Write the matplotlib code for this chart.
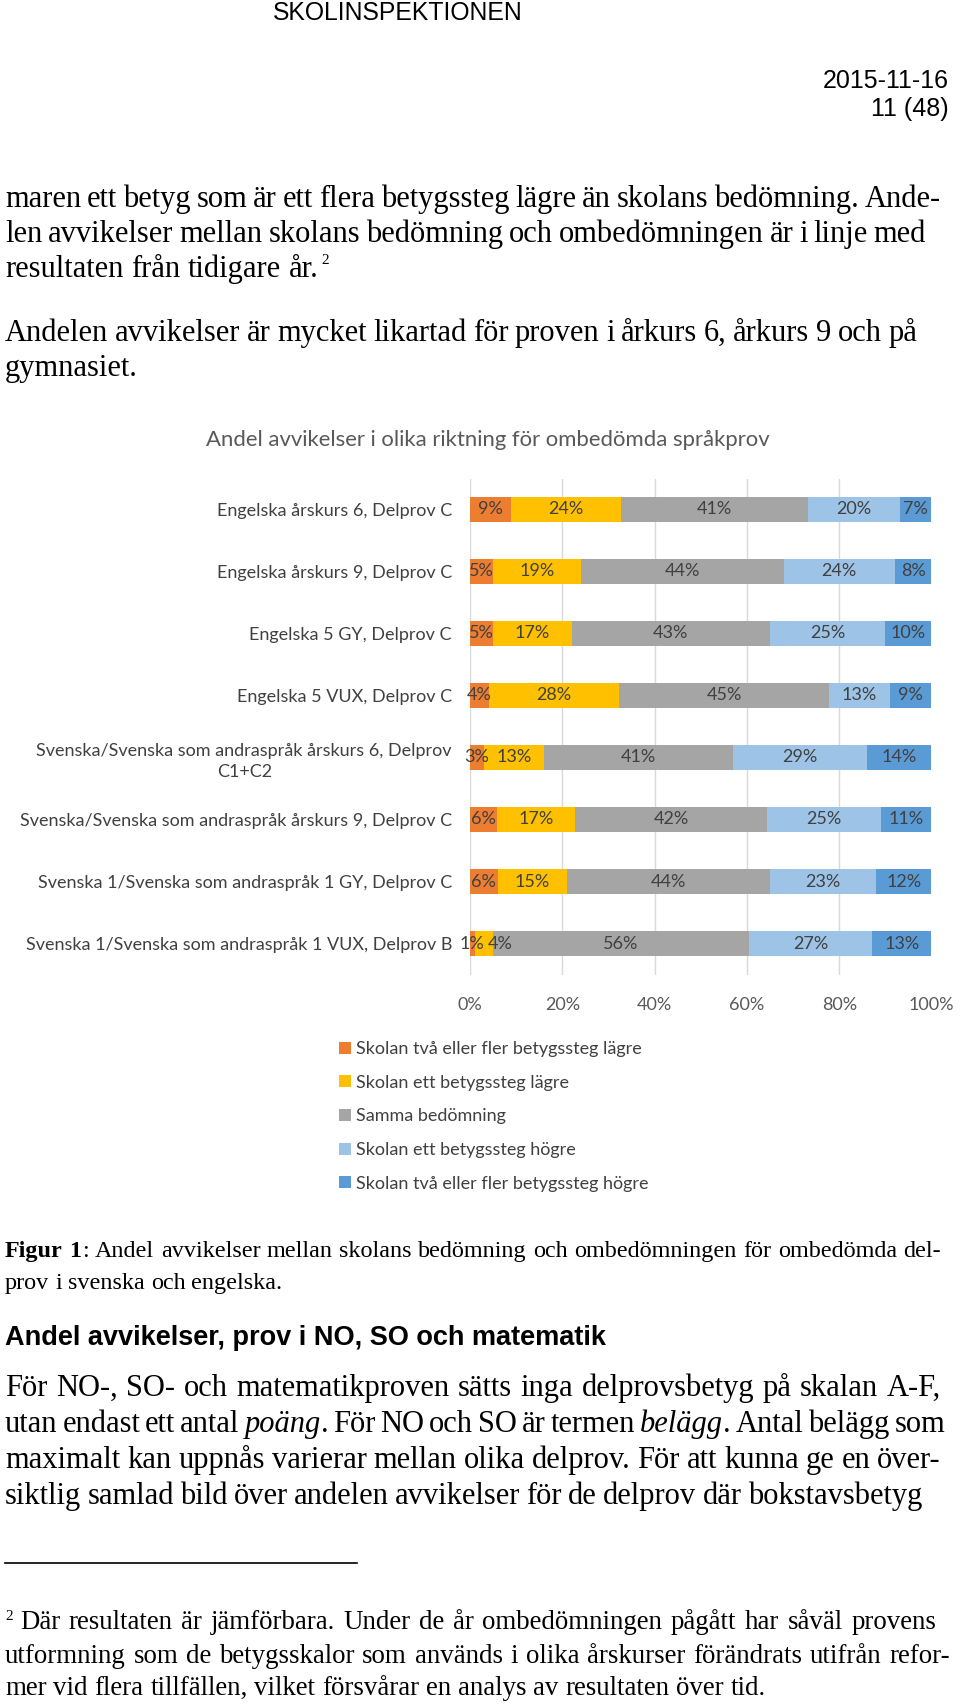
import matplotlib
matplotlib.use('Agg')
import matplotlib.pyplot as plt

W, H = 960, 1707

# chart data
categories = [
    'Engelska årskurs 6, Delprov C',
    'Engelska årskurs 9, Delprov C',
    'Engelska 5 GY, Delprov C',
    'Engelska 5 VUX, Delprov C',
    'Svenska/Svenska som andraspråk årskurs 6, Delprov\nC1+C2',
    'Svenska/Svenska som andraspråk årskurs 9, Delprov C',
    'Svenska 1/Svenska som andraspråk 1 GY, Delprov C',
    'Svenska 1/Svenska som andraspråk 1 VUX, Delprov B',
]
series_names = [
    'Skolan två eller fler betygssteg lägre',
    'Skolan ett betygssteg lägre',
    'Samma bedömning',
    'Skolan ett betygssteg högre',
    'Skolan två eller fler betygssteg högre',
]
two_lower = [9, 5, 5, 4, 3, 6, 6, 1]
one_lower = [24, 19, 17, 28, 13, 17, 15, 4]
same = [41, 44, 43, 45, 41, 42, 44, 56]
one_higher = [20, 24, 25, 13, 29, 25, 23, 27]
two_higher = [7, 8, 10, 9, 14, 11, 12, 13]
x_ticks = [0, 20, 40, 60, 80, 100]

colors = ['#ED7D31', '#FFC000', '#A5A5A5', '#9DC3E6', '#5B9BD5']

fig = plt.figure(figsize=(9.6, 17.07), dpi=100)
renderer = fig.canvas.get_renderer()


def fx(x):
    return x / W


def fy(y):
    return 1 - y / H


def put_line(y, line, x0=5, x1=None, size=22, family='Liberation Serif', weight='normal'):
    # one line of page text; words wrapped in _..._ are italic, x1 = justify to that edge
    pieces = []
    for word in line.split(' '):
        objs = []
        for i, part in enumerate(word.split('_')):
            if not part:
                continue
            t = fig.text(0, fy(y), part, fontsize=size, family=family, weight=weight,
                         style='italic' if i % 2 else 'normal', va='baseline', ha='left')
            objs.append(t)
        pieces.append(objs)
    widths = [[t.get_window_extent(renderer).width for t in objs] for objs in pieces]
    space = size * 0.25 * 100 / 72
    if x1 is not None and len(pieces) > 1:
        total = sum(sum(w) for w in widths)
        space = (x1 - x0 - total) / (len(pieces) - 1)
    x = x0
    for objs, ws in zip(pieces, widths):
        for t, w in zip(objs, ws):
            t.set_x(fx(x))
            x += w
        x += space
    return x


# page header
fig.text(fx(398), fy(13), 'SKOLINSPEKTIONEN', fontsize=17.8, family='Liberation Sans',
         ha='center', va='center')
fig.text(fx(949), fy(81), '2015-11-16', fontsize=18, family='Liberation Sans', ha='right', va='center')
fig.text(fx(949), fy(109), '11 (48)', fontsize=18, family='Liberation Sans', ha='right', va='center')

# body text above the chart
put_line(207, 'maren ett betyg som är ett flera betygssteg lägre än skolans bedömning. Ande-', x1=941)
put_line(242, 'len avvikelser mellan skolans bedömning och ombedömningen är i linje med', x1=926)
end = put_line(277, 'resultaten från tidigare år.')
fig.text(fx(end - 5), fy(264), '2', fontsize=11, family='Liberation Serif', va='baseline')
put_line(341, 'Andelen avvikelser är mycket likartad för proven i årkurs 6, årkurs 9 och på', x1=917)
put_line(376, 'gymnasiet.')

# chart
fig.text(fx(488), fy(440), 'Andel avvikelser i olika riktning för ombedömda språkprov',
         fontsize=15.9, family='Lato', color='#595959', ha='center', va='center')

ax = fig.add_axes([fx(470), fy(974.5), (931.5 - 470) / W, (974.5 - 478.5) / H])
values = [two_lower, one_lower, same, one_higher, two_higher]
rows = range(len(categories))
totals = [sum(v[i] for v in values) for i in rows]
left = [0.0] * len(categories)
for k, (vals, col, name) in enumerate(zip(values, colors, series_names)):
    share = [v / t * 100 for v, t in zip(vals, totals)]
    ax.barh(list(rows), share, left=left, height=0.4, color=col, label=name)
    for i in rows:
        nudge = 12 if (i == 7 and k == 1) else 0
        ax.annotate('%d%%' % vals[i], (left[i] + share[i] / 2, i), xytext=(nudge, 0),
                    textcoords='offset points', ha='center', va='center',
                    fontsize=13, family='Lato', color='#404040')
    left = [l + s for l, s in zip(left, share)]

ax.set_xlim(0, 100)
ax.set_ylim(len(categories) - 0.5, -0.5)
ax.set_xticks(x_ticks)
ax.set_xticklabels(['%d%%' % t for t in x_ticks], family='Lato', fontsize=13, color='#595959')
ax.set_yticks(list(rows))
ax.set_yticklabels(categories, family='Lato', fontsize=13, color='#404040')
for lab in ax.get_yticklabels():
    lab.set_multialignment('center')
    lab.set_linespacing(1.4)
ax.tick_params(axis='x', length=0, pad=16)
ax.tick_params(axis='y', length=0, pad=13)
ax.xaxis.grid(True, color='#D9D9D9', lw=1)
ax.set_axisbelow(True)
for s in ax.spines.values():
    s.set_visible(False)

handles, labels = ax.get_legend_handles_labels()
fig.legend(handles, labels, loc='upper left', bbox_to_anchor=(fx(330), fy(1032)),
           frameon=False, prop={'family': 'Lato', 'size': 13}, handlelength=0.65,
           handleheight=0.65, handletextpad=0.3, labelspacing=0.98, borderpad=0,
           labelcolor='#404040')

# caption
cx = put_line(1257, 'Figur 1', size=17.4, weight='bold')
put_line(1257, ': Andel avvikelser mellan skolans bedömning och ombedömningen för ombedömda del-',
         x0=cx - 5, x1=941, size=17.4)
put_line(1289, 'prov i svenska och engelska.', size=17.4)

# section heading
fig.text(fx(5), fy(1345), 'Andel avvikelser, prov i NO, SO och matematik', fontsize=19.5,
         family='Liberation Sans', weight='bold', va='baseline')

put_line(1396, 'För NO-, SO- och matematikproven sätts inga delprovsbetyg på skalan A-F,', x1=941)
put_line(1432, 'utan endast ett antal _poäng_. För NO och SO är termen _belägg_. Antal belägg som', x1=945)
put_line(1468, 'maximalt kan uppnås varierar mellan olika delprov. För att kunna ge en över-', x1=941)
put_line(1504, 'siktlig samlad bild över andelen avvikelser för de delprov där bokstavsbetyg', x1=922)

# footnote
fig.add_artist(plt.Line2D([fx(5), fx(357)], [fy(1563), fy(1563)], color='black', lw=1.2))
fig.text(fx(5), fy(1620), '2', fontsize=11, family='Liberation Serif', va='baseline')
put_line(1629, 'Där resultaten är jämförbara. Under de år ombedömningen pågått har såväl provens',
         x0=20, x1=936, size=19.4)
put_line(1663, 'utformning som de betygsskalor som används i olika årskurser förändrats utifrån refor-',
         x0=5, x1=950, size=19.4)
put_line(1695, 'mer vid flera tillfällen, vilket försvårar en analys av resultaten över tid.', size=19.4)

fig.savefig('out.png', dpi=100)
